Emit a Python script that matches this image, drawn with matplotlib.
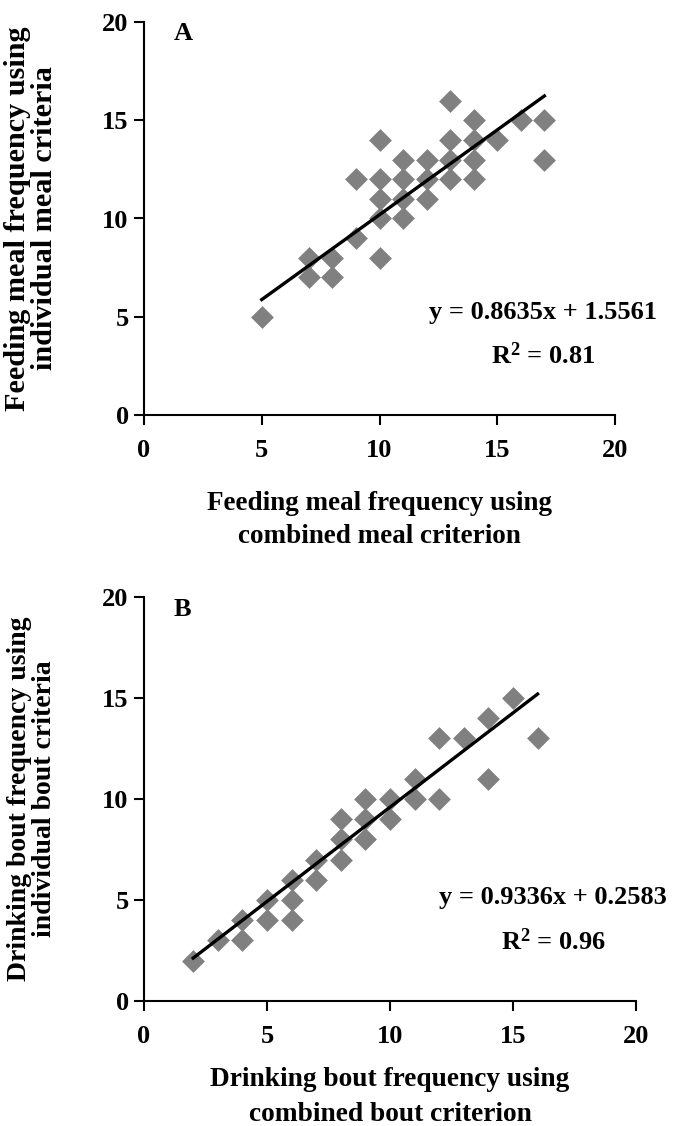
import numpy as np
import matplotlib
matplotlib.use("Agg")
import matplotlib.pyplot as plt

plt.rcParams["font.family"] = ["Liberation Serif", "DejaVu Serif"]
plt.rcParams["font.weight"] = "bold"
plt.rcParams["mathtext.fontset"] = "custom"
plt.rcParams["mathtext.rm"] = "Liberation Serif:bold"
plt.rcParams["mathtext.bf"] = "Liberation Serif:bold"

# panel A: feeding meals
feed_x = [5, 7, 7, 8, 8, 9, 9, 10, 10, 10, 10, 10, 11, 11, 11, 11,
          12, 12, 12, 13, 13, 13, 13, 14, 14, 14, 14, 15, 16, 17, 17]
feed_y = [5, 8, 7, 8, 7, 12, 9, 14, 12, 11, 10, 8, 13, 12, 11, 10,
          13, 12, 11, 16, 14, 13, 12, 15, 14, 13, 12, 14, 15, 15, 13]
feed_fit = (0.8635, 1.5561)
feed_r2 = 0.81

# panel B: drinking bouts
drink_x = [2, 3, 4, 4, 5, 5, 6, 6, 6, 7, 7, 8, 8, 8, 9, 9, 9,
           10, 10, 11, 11, 12, 12, 13, 14, 14, 15, 16]
drink_y = [2, 3, 4, 3, 5, 4, 6, 5, 4, 7, 6, 9, 8, 7, 10, 9, 8,
           10, 9, 11, 10, 13, 10, 13, 14, 11, 15, 13]
drink_fit = (0.9336, 0.2583)
drink_r2 = 0.96

ticks = [0, 5, 10, 15, 20]

W, H = 675, 1126
FS = 19
fig = plt.figure(figsize=(W / 100, H / 100), dpi=100)


def panel(box, xs, ys, fit, r2, letter, xlab, ylab, lab_pos, eq_pos,
          fs_x, fs_y, ls_x):
    l, t, r, b = box
    ax = fig.add_axes([l / W, 1 - b / H, (r - l) / W, (b - t) / H])
    ax.scatter(xs, ys, marker="D", s=135, color="#808080", zorder=3, linewidths=0)
    xx = np.array([min(xs), max(xs)])
    ax.plot(xx, fit[0] * xx + fit[1], color="black", lw=2.4, zorder=4)
    ax.set_xlim(0, 20)
    ax.set_ylim(0, 20)
    ax.set_xticks(ticks)
    ax.set_yticks(ticks)
    for s in ["top", "right"]:
        ax.spines[s].set_visible(False)
    for s in ["left", "bottom"]:
        ax.spines[s].set_linewidth(1.5)
    ax.tick_params(direction="out", length=7, width=1.5, labelsize=FS)
    ax.tick_params(axis="x", pad=10)
    ax.tick_params(axis="y", pad=4)
    ax.set_xlabel(xlab, fontsize=fs_x, fontweight="bold", linespacing=ls_x)
    ax.set_ylabel(ylab, fontsize=fs_y, fontweight="bold", linespacing=1.0)
    ax.xaxis.set_label_coords(0.5, lab_pos[0])
    ax.yaxis.set_label_coords(lab_pos[1], 0.5)
    ax.text(lab_pos[2], lab_pos[3], letter, transform=ax.transAxes,
            fontsize=FS, fontweight="bold", ha="center", va="center")
    ax.text(eq_pos[0], eq_pos[1], f"y = {fit[0]:.4f}x + {fit[1]:.4f}",
            transform=ax.transAxes, fontsize=FS, fontweight="bold",
            ha="center", va="center")
    ax.text(eq_pos[0], eq_pos[2], r"$\mathbf{R^2}$" + f" = {r2:.2f}",
            transform=ax.transAxes, fontsize=FS, fontweight="bold",
            ha="center", va="center")
    return ax


panel((144, 22, 615, 415), feed_x, feed_y, feed_fit, feed_r2, "A",
      "Feeding meal frequency using\ncombined meal criterion",
      "Feeding meal frequency using\nindividual meal criteria",
      (-0.193, -0.183, 0.083, 0.972), (0.847, 0.26, 0.15), 19.5, 21.8, 1.45)

panel((144, 597, 636, 1001), drink_x, drink_y, drink_fit, drink_r2, "B",
      "Drinking bout frequency using\ncombined bout criterion",
      "Drinking bout frequency using\nindividual bout criteria",
      (-0.163, -0.177, 0.079, 0.968), (0.831, 0.255, 0.148), 19.7, 20, 1.55)

fig.savefig("out.png", dpi=100)
